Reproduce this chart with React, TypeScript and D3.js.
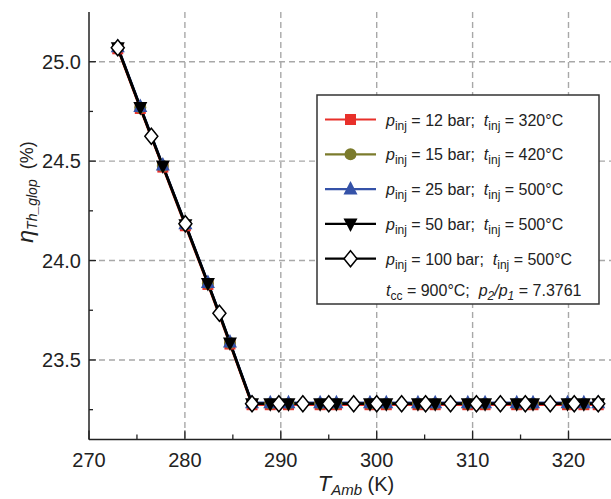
import React from "react";
import * as d3 from "d3";

// ---------- data ----------
const X_TICKS = [270, 280, 290, 300, 310, 320];
const X_MINOR = [275, 285, 295, 305, 315, 325];
const Y_TICKS = [23.5, 24.0, 24.5, 25.0];
const Y_MINOR = [23.25, 23.75, 24.25, 24.75];

const T_FILLED = [273.0, 275.35, 277.7, 280.05, 282.4, 284.7, 287.0, 288.9, 290.8, 294.1, 295.8, 299.3, 301.0, 304.3, 306.1, 309.5, 311.3, 314.6, 316.3, 319.9, 321.6, 323.1];
const ETA_12 = [25.065, 24.765, 24.47, 24.175, 23.88, 23.58, 23.275, 23.275, 23.275, 23.275, 23.275, 23.275, 23.275, 23.275, 23.275, 23.275, 23.275, 23.275, 23.275, 23.275, 23.275, 23.275];
const ETA_15 = [25.07, 24.77, 24.475, 24.18, 23.885, 23.585, 23.28, 23.28, 23.28, 23.28, 23.28, 23.28, 23.28, 23.28, 23.28, 23.28, 23.28, 23.28, 23.28, 23.28, 23.28, 23.28];
const ETA_25 = [25.075, 24.775, 24.48, 24.185, 23.89, 23.59, 23.285, 23.285, 23.285, 23.285, 23.285, 23.285, 23.285, 23.285, 23.285, 23.285, 23.285, 23.285, 23.285, 23.285, 23.285, 23.285];
const ETA_50 = [25.07, 24.77, 24.475, 24.18, 23.885, 23.585, 23.28, 23.28, 23.28, 23.28, 23.28, 23.28, 23.28, 23.28, 23.28, 23.28, 23.28, 23.28, 23.28, 23.28, 23.28, 23.28];
const T_100 = [273.0, 276.5, 280.05, 283.6, 287.0, 289.8, 292.3, 295.0, 297.6, 300.0, 302.6, 305.1, 307.7, 310.4, 312.9, 315.5, 318.1, 320.6, 323.1];
const ETA_100 = [25.07, 24.625, 24.185, 23.735, 23.28, 23.28, 23.28, 23.28, 23.28, 23.28, 23.28, 23.28, 23.28, 23.28, 23.28, 23.28, 23.28, 23.28, 23.28];

const LEGEND_P = ["12", "15", "25", "50", "100"];
const LEGEND_T = ["320", "420", "500", "500", "500"];

// ---------- layout ----------
const W = 611, H = 499;
const X0 = 89, Y_TOP = 12, Y_BOT = 439.5;
const FONT = "'Liberation Sans', Arial, Helvetica, sans-serif";

const x = d3.scaleLinear().domain([270, 325]).range([X0, X0 + 55 * 9.59]);
const y = d3.scaleLinear().domain([23.1, 25.25]).range([Y_BOT, Y_TOP]);

type Marker = "square" | "circle" | "tri" | "tridown" | "diamond";
const SERIES: { t: number[]; v: number[]; color: string; marker: Marker }[] = [
  { t: T_FILLED, v: ETA_12, color: "#e8302a", marker: "square" },
  { t: T_FILLED, v: ETA_15, color: "#7b7b2c", marker: "circle" },
  { t: T_FILLED, v: ETA_25, color: "#3552a8", marker: "tri" },
  { t: T_FILLED, v: ETA_50, color: "#000000", marker: "tridown" },
  { t: T_100, v: ETA_100, color: "#000000", marker: "diamond" },
];

function MarkerShape({ m, cx, cy, color }: { m: Marker; cx: number; cy: number; color: string }) {
  switch (m) {
    case "square":
      return <rect x={cx - 5.5} y={cy - 5.5} width={11} height={11} fill={color} />;
    case "circle":
      return <circle cx={cx} cy={cy} r={6} fill={color} />;
    case "tri":
      return <path d={`M${cx},${cy - 8}L${cx + 7},${cy + 5.5}L${cx - 7},${cy + 5.5}Z`} fill={color} />;
    case "tridown":
      return <path d={`M${cx - 7},${cy - 5.5}L${cx + 7},${cy - 5.5}L${cx},${cy + 8}Z`} fill={color} />;
    case "diamond":
      return <path d={`M${cx},${cy - 8}L${cx + 6.5},${cy}L${cx},${cy + 8}L${cx - 6.5},${cy}Z`} fill="#fff" stroke="#000" strokeWidth={1.5} />;
  }
}

export default function App() {
  const line = d3.line<[number, number]>().x(d => x(d[0])).y(d => y(d[1]));
  return (
    <svg width={W} height={H} style={{ position: "absolute", left: 0, top: 0, background: "#fff" }} fontFamily={FONT}>
      <defs>
        <clipPath id="plot">
          <rect x={X0} y={Y_TOP - 10} width={W - X0} height={Y_BOT - Y_TOP + 10} />
        </clipPath>
      </defs>
      {/* grid */}
      <g stroke="#a8a8a8" strokeWidth={1.4} strokeDasharray="6,4">
        {X_TICKS.filter(t => t > 270).map(t => (
          <line key={t} x1={x(t)} x2={x(t)} y1={Y_TOP} y2={Y_BOT} />
        ))}
        {Y_TICKS.map(t => (
          <line key={t} x1={X0} x2={W} y1={y(t)} y2={y(t)} />
        ))}
      </g>
      {/* ticks */}
      <g stroke="#222" strokeWidth={1.3}>
        {X_TICKS.map(t => <line key={t} x1={x(t)} x2={x(t)} y1={Y_BOT} y2={Y_BOT - 9} />)}
        {X_MINOR.map(t => <line key={t} x1={x(t)} x2={x(t)} y1={Y_BOT} y2={Y_BOT - 5} />)}
        {Y_TICKS.map(t => <line key={t} x1={X0} x2={X0 + 7} y1={y(t)} y2={y(t)} />)}
        {Y_MINOR.map(t => <line key={t} x1={X0} x2={X0 + 4} y1={y(t)} y2={y(t)} />)}
      </g>
      {/* axes */}
      <g stroke="#222" strokeWidth={1.5}>
        <line x1={X0} x2={X0} y1={Y_TOP} y2={Y_BOT} />
        <line x1={X0} x2={W} y1={Y_BOT} y2={Y_BOT} />
      </g>
      {/* tick labels */}
      <g fontSize={20} fill="#222">
        {X_TICKS.map(t => (
          <text key={t} x={x(t)} y={467} textAnchor="middle">{t}</text>
        ))}
        {Y_TICKS.map(t => (
          <text key={t} x={81} y={y(t)} dy="0.36em" textAnchor="end">{t.toFixed(1)}</text>
        ))}
      </g>
      {/* data */}
      <g clipPath="url(#plot)">
        {SERIES.map((s, i) => (
          <path key={i} d={line(s.t.map((t, j) => [t, s.v[j]] as [number, number])) || ""} fill="none" stroke={s.color} strokeWidth={2.5} />
        ))}
        {SERIES.map((s, i) => (
          <g key={i}>
            {s.t.map((t, j) => (
              <MarkerShape key={j} m={s.marker} cx={x(t)} cy={y(s.v[j])} color={s.color} />
            ))}
          </g>
        ))}
      </g>
      {/* axis titles */}
      <text x={356} y={491} textAnchor="middle" fontSize={20} fill="#222">
        <tspan fontStyle="italic" fontSize={22}>T</tspan>
        <tspan fontStyle="italic" fontSize={15} dy={4}>Amb</tspan>
        <tspan dy={-4}> (K)</tspan>
      </text>
      <text transform="translate(33,192) rotate(-90)" textAnchor="middle" fontSize={18} fill="#222">
        <tspan fontStyle="italic" fontSize={23}>η</tspan>
        <tspan fontStyle="italic" fontSize={14} dy={4}>Th_glop</tspan>
        <tspan dy={-4}>{"\u00a0\u00a0(%)"}</tspan>
      </text>
      {/* legend */}
      <g>
        <rect x={317} y={95} width={282} height={209} fill="#fff" stroke="#333" strokeWidth={1.5} />
        {SERIES.map((s, i) => {
          const ly = 119.5 + i * 34.8;
          return (
            <g key={i}>
              <line x1={325} x2={376} y1={ly} y2={ly} stroke={s.color} strokeWidth={2.2} />
              <MarkerShape m={s.marker} cx={350.5} cy={ly} color={s.color} />
              <text x={386} y={ly + 6} fontSize={16} fill="#222">
                <tspan fontStyle="italic">p</tspan>
                <tspan fontSize={12} dy={4}>inj</tspan>
                <tspan dy={-4}>{` = ${LEGEND_P[i]} bar;\u00a0\u00a0`}</tspan>
                <tspan fontStyle="italic">t</tspan>
                <tspan fontSize={12} dy={4}>inj</tspan>
                <tspan dy={-4}>{` = ${LEGEND_T[i]}°C`}</tspan>
              </text>
            </g>
          );
        })}
        <text x={386} y={296} fontSize={16} fill="#222">
          <tspan fontStyle="italic">t</tspan>
          <tspan fontSize={12} dy={4}>cc</tspan>
          <tspan dy={-4}>{" = 900°C;\u00a0\u00a0"}</tspan>
          <tspan fontStyle="italic">p</tspan>
          <tspan fontSize={12} dy={4} fontStyle="italic">2</tspan>
          <tspan dy={-4} fontStyle="italic">/p</tspan>
          <tspan fontSize={12} dy={4} fontStyle="italic">1</tspan>
          <tspan dy={-4}>{" = 7.3761"}</tspan>
        </text>
      </g>
    </svg>
  );
}
